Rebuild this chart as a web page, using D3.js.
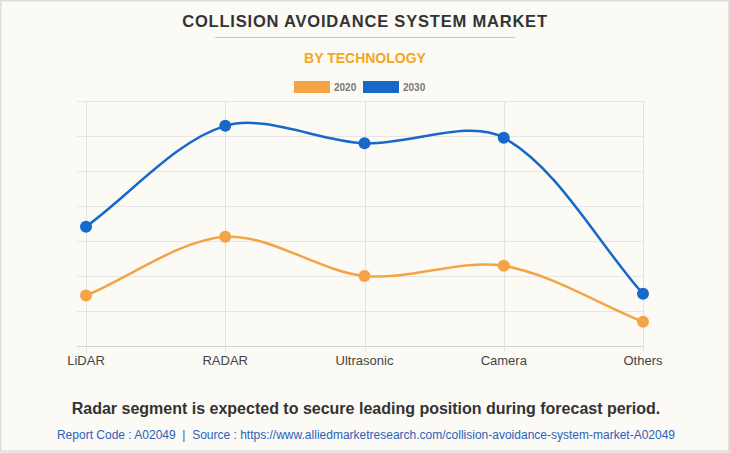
<!DOCTYPE html>
<html>
<head>
<meta charset="utf-8">
<script src="https://cdn.jsdelivr.net/npm/d3@7"></script>
<style>
html,body{margin:0;padding:0;background:#fbfaf5;}
svg{display:block;}
</style>
</head>
<body>
<script>
const categories = ["LiDAR", "RADAR", "Ultrasonic", "Camera", "Others"];
const series2020 = [1.44, 3.12, 2.0, 2.29, 0.69];
const series2030 = [3.41, 6.29, 5.79, 5.95, 1.49];
const seriesNames = ["2020", "2030"];
const yTicks = [0, 1, 2, 3, 4, 5, 6, 7];

const W = 730, H = 453;
const colors = ["#f4a444", "#1769c9"];
const font = "'Liberation Sans', Arial, sans-serif";

const svg = d3.select("body").append("svg").attr("width", W).attr("height", H);
svg.append("rect").attr("x", 0.5).attr("y", 0.5).attr("width", W - 1.5).attr("height", H - 2)
  .attr("fill", "#fbfaf5").attr("stroke", "#dedede").attr("stroke-width", 2);

// Title
svg.append("text").attr("x", 365).attr("y", 27).attr("text-anchor", "middle")
  .attr("font-family", font).attr("font-weight", "bold").attr("font-size", 16.5)
  .attr("letter-spacing", 0.8).attr("fill", "#333").text("COLLISION AVOIDANCE SYSTEM MARKET");
svg.append("line").attr("x1", 215).attr("x2", 515).attr("y1", 37.5).attr("y2", 37.5)
  .attr("stroke", "#c8c8c8").attr("stroke-width", 1);
svg.append("text").attr("x", 365).attr("y", 63).attr("text-anchor", "middle")
  .attr("font-family", font).attr("font-weight", "bold").attr("font-size", 14)
  .attr("fill", "#f5a623").text("BY TECHNOLOGY");

// Legend
const legendX = [294, 363];
seriesNames.forEach((n, i) => {
  svg.append("rect").attr("x", legendX[i]).attr("y", 81).attr("width", 36).attr("height", 12)
    .attr("fill", colors[i]);
  svg.append("text").attr("x", legendX[i] + 40).attr("y", 91)
    .attr("font-family", font).attr("font-size", 10).attr("font-weight", "bold").attr("fill", "#777").text(n);
});

const x = d3.scalePoint().domain(categories).range([86, 643]);
const y = d3.scaleLinear().domain([0, 7]).range([346, 101]);

const g = svg.append("g");
// horizontal grid
g.selectAll(".hg").data(yTicks).enter().append("line")
  .attr("x1", 77).attr("x2", 643)
  .attr("y1", d => Math.round(y(d)) + 0.5).attr("y2", d => Math.round(y(d)) + 0.5)
  .attr("stroke", d => d === 0 ? "#cfcfcf" : "#e6e6e6").attr("stroke-width", 1);
// vertical grid
g.selectAll(".vg").data(categories).enter().append("line")
  .attr("x1", d => Math.round(x(d)) + 0.5).attr("x2", d => Math.round(x(d)) + 0.5)
  .attr("y1", 101).attr("y2", 352)
  .attr("stroke", "#e3e3e3").attr("stroke-width", 1);

// x labels
g.selectAll(".xl").data(categories).enter().append("text")
  .attr("x", d => x(d)).attr("y", 365).attr("text-anchor", "middle")
  .attr("font-family", font).attr("font-size", 13).attr("fill", "#444").text(d => d);

// Chart.js-style spline
function splinePath(pts, tension) {
  const cps = pts.map((p, i) => {
    const prev = pts[i - 1] || p, next = pts[i + 1] || p;
    const d01 = Math.hypot(p[0] - prev[0], p[1] - prev[1]);
    const d12 = Math.hypot(next[0] - p[0], next[1] - p[1]);
    let s01 = d01 / (d01 + d12), s12 = d12 / (d01 + d12);
    if (isNaN(s01)) s01 = 0; if (isNaN(s12)) s12 = 0;
    const fa = tension * s01, fb = tension * s12;
    return {
      prev: [p[0] - fa * (next[0] - prev[0]), p[1] - fa * (next[1] - prev[1])],
      next: [p[0] + fb * (next[0] - prev[0]), p[1] + fb * (next[1] - prev[1])]
    };
  });
  let d = `M${pts[0][0]},${pts[0][1]}`;
  for (let i = 1; i < pts.length; i++) {
    const c1 = cps[i - 1].next, c2 = cps[i].prev;
    d += `C${c1[0]},${c1[1]},${c2[0]},${c2[1]},${pts[i][0]},${pts[i][1]}`;
  }
  return d;
}

[series2020, series2030].forEach((vals, si) => {
  const pts = vals.map((v, i) => [x(categories[i]), y(v)]);
  g.append("path").attr("d", splinePath(pts, 0.32)).attr("fill", "none")
    .attr("stroke", colors[si]).attr("stroke-width", 2.5);
  g.selectAll(".pt" + si).data(vals).enter().append("circle")
    .attr("cx", (d, i) => x(categories[i])).attr("cy", d => y(d)).attr("r", 6)
    .attr("fill", colors[si]);
});

// caption
svg.append("text").attr("x", 366).attr("y", 414).attr("text-anchor", "middle")
  .attr("font-family", font).attr("font-weight", "bold").attr("font-size", 16)
  .attr("fill", "#333").text("Radar segment is expected to secure leading position during forecast period.");
svg.append("text").attr("x", 366).attr("y", 439).attr("text-anchor", "middle")
  .attr("font-family", font).attr("font-size", 12).style("white-space", "pre")
  .attr("fill", "#2a62b8").text("Report Code : A02049  |  Source : https://www.alliedmarketresearch.com/collision-avoidance-system-market-A02049");
</script>
</body>
</html>
